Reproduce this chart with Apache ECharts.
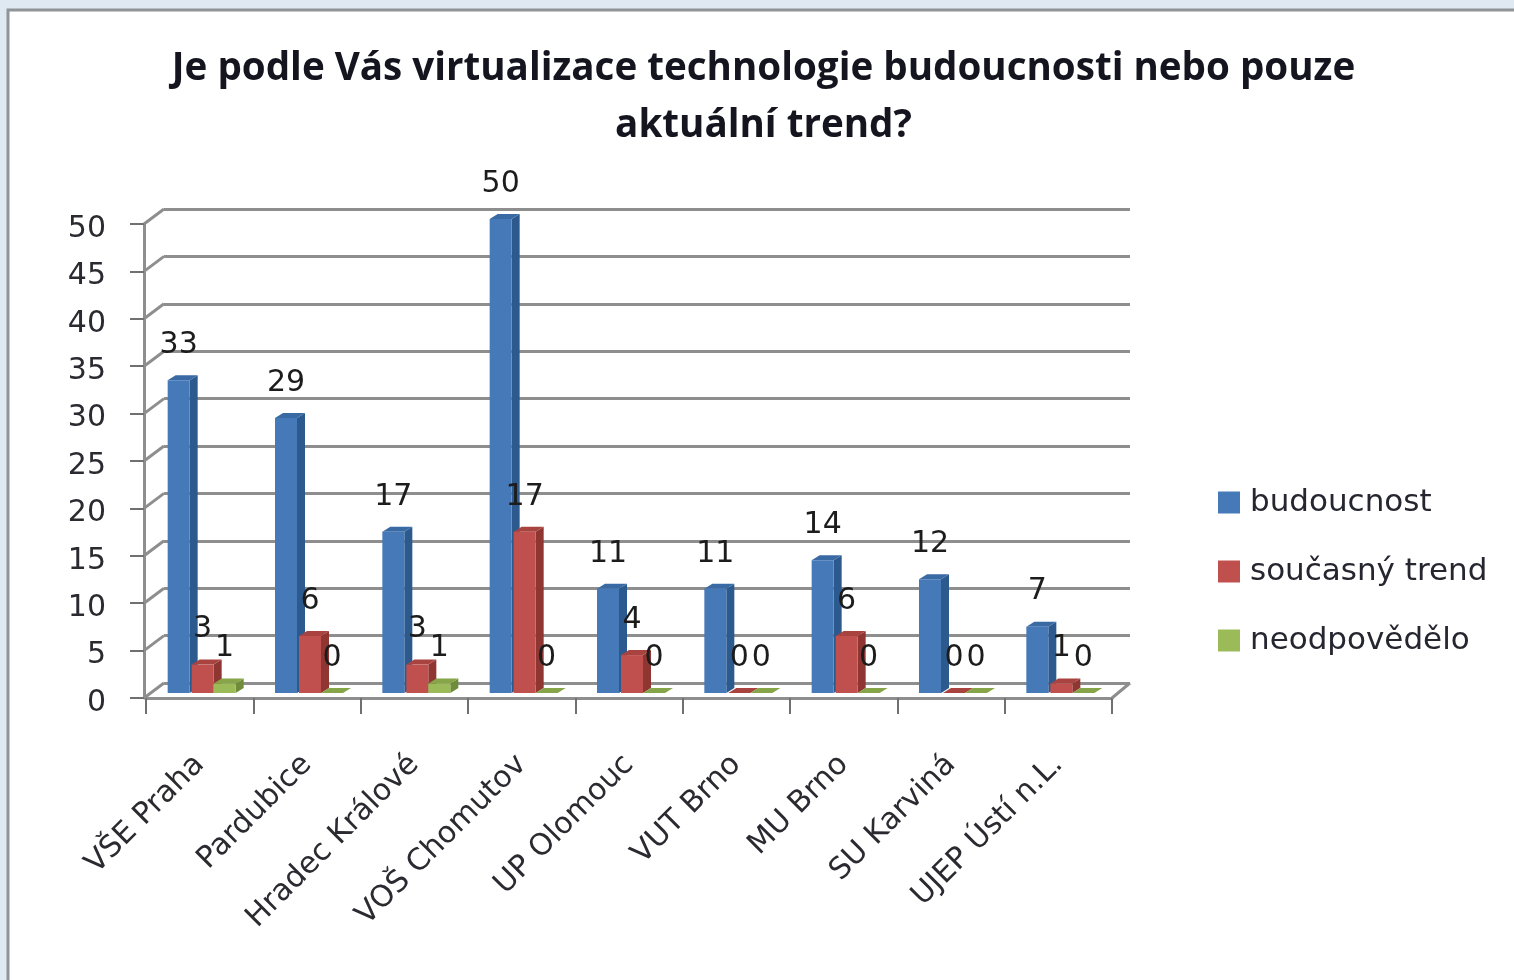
<!DOCTYPE html>
<html><head><meta charset="utf-8">
<style>html,body{margin:0;padding:0;background:#dfe9f1}#c{width:1514px;height:980px}</style>
<script src="https://cdn.jsdelivr.net/npm/echarts@6/dist/echarts.min.js"></script>
</head><body><div id="c"></div>
<script>
const titleText = 'Je podle Vás virtualizace technologie budoucnosti nebo pouze\naktuální trend?';
const categories = ['VŠE Praha','Pardubice','Hradec Králové','VOŠ Chomutov','UP Olomouc','VUT Brno','MU Brno','SU Karviná','UJEP Ústí n.L.'];
const budoucnost = [33,29,17,50,11,11,14,12,7];
const soucasnyTrend = [3,6,3,17,4,0,6,0,1];
const neodpovedelo = [1,0,1,0,0,0,0,0,0];
const valueTicks = [0,5,10,15,20,25,30,35,40,45,50];

const FONT = '"DejaVu Sans"';
const DEPTH_X = 18, DEPTH_Y = 15;
const FACE_W = 22, SIDE_W = 8, SIDE_H = 5, BASE_SHIFT_Y = 5;
const GRID_COLOR = '#8e8e8e';

function barSeries(name, values, offset, face, side, top) {
  return {
    name, type: 'custom', xAxisIndex: 0, yAxisIndex: 0, z: 5,
    itemStyle: { color: face },
    data: values.map((v, i) => [i, v]),
    encode: { x: 0, y: 1 },
    renderItem(params, api) {
      const p = api.coord([api.value(0), api.value(1)]);
      const b = api.coord([api.value(0), 0]);
      const x0 = p[0] + offset, x1 = x0 + FACE_W;
      const yT = p[1] - BASE_SHIFT_Y, yB = b[1] - BASE_SHIFT_Y;
      const children = [
        { type: 'polygon', shape: { points: [[x1, yT], [x1 + SIDE_W, yT - SIDE_H], [x1 + SIDE_W, yB - SIDE_H], [x1, yB]] }, style: { fill: side } },
        { type: 'polygon', shape: { points: [[x0, yT], [x0 + SIDE_W, yT - SIDE_H], [x1 + SIDE_W, yT - SIDE_H], [x1, yT]] }, style: { fill: top } },
        { type: 'rect', shape: { x: x0, y: yT, width: FACE_W, height: yB - yT }, style: { fill: face } },
        { type: 'text', style: { text: String(api.value(1)), x: x0 + 11, y: yT - 35, fill: '#1c1c1c', font: '30px ' + FONT, align: 'center', verticalAlign: 'middle' }, z2: 50 }
      ];
      return { type: 'group', children };
    }
  };
}

const chart = echarts.init(document.getElementById('c'), null, { renderer: 'canvas' });
chart.setOption({
  animation: false,
  backgroundColor: 'transparent',
  title: {
    text: titleText, left: 758.5, top: 36, textAlign: 'center',
    textStyle: { fontFamily: '"Open Sans"', fontWeight: 'bold', fontSize: 38.6, lineHeight: 57, color: '#15151f' }
  },
  legend: {
    orient: 'vertical', left: 1213, top: 482, itemWidth: 22, itemHeight: 22, itemGap: 38,
    icon: 'rect', itemStyle: { borderWidth: 0 },
    data: ['budoucnost', 'současný trend', 'neodpovědělo'],
    textStyle: { fontFamily: FONT, fontSize: 31, color: '#262630', padding: [0, 0, 0, 5] }
  },
  grid: [
    { left: 146, top: 224, width: 966, height: 474 },
    { left: 164, top: 209, width: 966, height: 474 }
  ],
  xAxis: [
    { type: 'category', gridIndex: 0, data: categories,
      axisLine: { lineStyle: { color: GRID_COLOR, width: 3 } },
      axisTick: { show: true, alignWithLabel: false, interval: 0, length: 16, lineStyle: { color: '#707070', width: 2 } },
      axisLabel: { rotate: 45, interval: 0, margin: 62, fontFamily: FONT, fontSize: 30, color: '#2a2a30' } },
    { type: 'category', gridIndex: 1, data: categories, show: false }
  ],
  yAxis: [
    { type: 'value', gridIndex: 0, min: 0, max: 50, interval: 5, offset: 2,
      axisLine: { show: true, lineStyle: { color: GRID_COLOR, width: 3 } },
      axisTick: { show: true, length: 14, lineStyle: { color: '#707070', width: 2 } },
      splitLine: { show: false },
      axisLabel: { margin: 38, formatter: '{t|{value}}', color: '#2a2a30',
        rich: { t: { padding: [10, 0, 0, 0], fontFamily: FONT, fontSize: 30, color: '#2a2a30' } } } },
    { type: 'value', gridIndex: 1, min: 0, max: 50, interval: 5,
      axisLine: { show: false }, axisTick: { show: false }, axisLabel: { show: false },
      splitLine: { show: true, lineStyle: { color: GRID_COLOR, width: 3 } } }
  ],
  series: [
    { type: 'custom', xAxisIndex: 0, yAxisIndex: 0, z: 2, silent: true,
      data: valueTicks.map(v => [0, v]), encode: { y: 1 },
      renderItem(params, api) {
        const y = api.coord([0, api.value(1)])[1], x = params.coordSys.x;
        return { type: 'line', shape: { x1: x - 2, y1: y, x2: x + DEPTH_X, y2: y - DEPTH_Y }, style: { stroke: GRID_COLOR, lineWidth: 3 } };
      } },
    { type: 'custom', xAxisIndex: 0, yAxisIndex: 0, z: 2, silent: true,
      data: [[0, 0]], encode: { y: 1 },
      renderItem(params, api) {
        const y = api.coord([0, 0])[1], x = params.coordSys.x + params.coordSys.width;
        return { type: 'line', shape: { x1: x, y1: y, x2: x + DEPTH_X, y2: y - DEPTH_Y }, style: { stroke: GRID_COLOR, lineWidth: 3 } };
      } },
    barSeries('budoucnost', budoucnost, -32, '#4579b8', '#2c5a8e', '#3a6aa3'),
    barSeries('současný trend', soucasnyTrend, -8, '#c0504d', '#8f3532', '#a84340'),
    barSeries('neodpovědělo', neodpovedelo, 14, '#9bbb59', '#6f8c3a', '#85a548')
  ],
  graphic: [
    { type: 'rect', z: -10, silent: true, shape: { x: 8, y: 10, width: 1520, height: 990 }, style: { fill: '#ffffff', stroke: '#8f9498', lineWidth: 3 } }
  ]
});
</script></body></html>
